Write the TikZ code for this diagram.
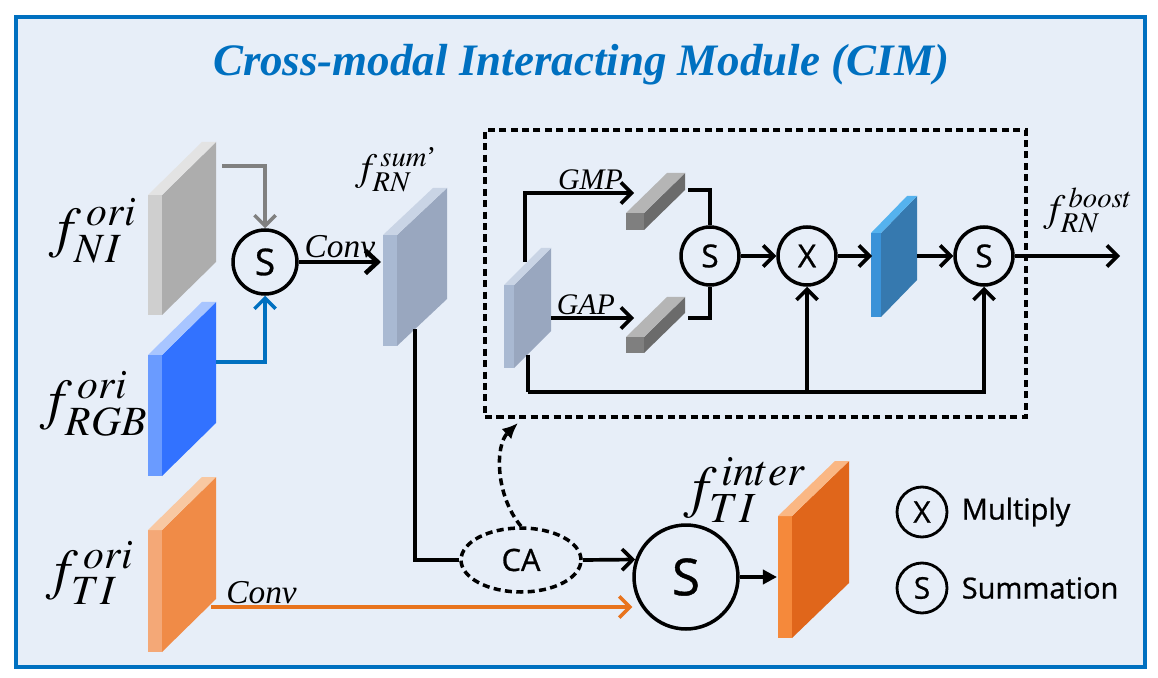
\documentclass[tikz,border=0pt]{standalone}
\usepackage{amsmath}
\usepackage{mathptmx}
\usepackage[no-math]{fontspec}
\setmainfont{Liberation Serif}
\setsansfont{Open Sans}[FakeBold=0.8]
\usepackage{xcolor}
\usetikzlibrary{shapes.geometric, arrows.meta, positioning, calc}

\definecolor{cimblue}{HTML}{0070C0}
\definecolor{bgblue}{HTML}{E7EEF8}
\definecolor{convorange}{HTML}{E8741E}
\definecolor{greyF}{HTML}{CFCFCF}
\definecolor{greyS}{HTML}{ADADAD}
\definecolor{greyT}{HTML}{E3E3E3}
\definecolor{rgbF}{HTML}{6A9BFF}
\definecolor{rgbS}{HTML}{3272FF}
\definecolor{rgbT}{HTML}{A8C5FF}
\definecolor{tiF}{HTML}{F4A877}
\definecolor{tiS}{HTML}{F08B47}
\definecolor{tiT}{HTML}{F8C8A2}
\definecolor{rnF}{HTML}{A9B9D2}
\definecolor{rnS}{HTML}{99A7BF}
\definecolor{rnT}{HTML}{C9D4E5}
\definecolor{barF}{HTML}{7F7F7F}
\definecolor{barS}{HTML}{6B6B6B}
\definecolor{barT}{HTML}{B5B5B5}
\definecolor{boostF}{HTML}{3A92D8}
\definecolor{boostS}{HTML}{3679AF}
\definecolor{boostT}{HTML}{55B2EE}
\definecolor{interF}{HTML}{F5893B}
\definecolor{interS}{HTML}{E0661B}
\definecolor{interT}{HTML}{FAB784}

% feature slab: name, front x, front bottom y, width, height, depth x, depth y, colour
\newcommand{\slab}[8]{%
  \fill[#8S] (#2+#4,#3) -- (#2+#4,#3-#5) -- (#2+#4+#6,#3-#5-#7) -- (#2+#4+#6,#3-#7) -- cycle;
  \fill[#8F] (#2,#3) rectangle (#2+#4,#3-#5);
  \fill[#8T] (#2,#3-#5) -- (#2+#4,#3-#5) -- (#2+#4+#6,#3-#5-#7) -- (#2+#6,#3-#5-#7) -- cycle;
  \coordinate (#1) at (#2,#3);
}

\begin{document}
\begin{tikzpicture}[x=0.02cm, y=-0.02cm, >={Straight Barb[length=6pt,width=12pt]}]
        \tikzstyle{op_style} = [circle, draw=black, line width=2pt, inner sep=0pt, minimum size=1.16cm, font=\sffamily\fontsize{18}{18}\selectfont]
        \tikzstyle{flab_big} = [inner sep=0pt, font=\fontsize{32}{36}\selectfont]
        \tikzstyle{flab_small} = [inner sep=0pt, font=\fontsize{22}{26}\selectfont]
        \tikzstyle{op_lbl} = [inner sep=1pt, font=\fontsize{17}{20}\selectfont\itshape]
        \tikzstyle{legend_txt} = [inner sep=0pt, font=\sffamily\fontsize{16.5}{20}\selectfont]
        \tikzstyle{arr} = [line width=2.1pt, ->]
        \tikzstyle{arr_thick} = [line width=2.6pt, -{Straight Barb[length=7pt,width=13pt]}]
        \tikzstyle{line} = [line width=2.1pt]

        \useasboundingbox (0,0) rectangle (1158,678);

        % Frame and title
        \draw [line width=2.8pt, draw=cimblue, fill=bgblue] (16,17) rectangle (1145,667);
        \node (title) [text=cimblue, font=\fontsize{25.6}{30}\selectfont\bfseries\itshape] at (581,65) {Cross-modal Interacting Module (CIM)};

        % Input features
        \slab{ni}{148}{315}{14}{120}{54}{53}{grey}
        \slab{rgb}{148}{476}{14}{121}{54}{53}{rgb}
        \slab{ti}{148}{652}{14}{122}{54}{53}{ti}
        \node (lab_ni) [flab_big] at (93,231) {$f^{\,ori}_{NI}$};
        \node (lab_rgb) [flab_big] at (94,404) {$f^{\,ori}_{RGB}$};
        \node (lab_ti) [flab_big] at (90,573) {$f^{\,ori}_{TI}$};
        \coordinate (ni_out) at (222,166);
        \coordinate (rgb_out) at (216,362);
        \coordinate (ti_out) at (211,607);

        % First summation and fused feature
        \node (s1) [op_style, minimum size=1.28cm, font=\sffamily\fontsize{21}{21}\selectfont] at (265,262) {S};
        \slab{rn}{383}{346}{14}{111}{50}{47}{rn}
        \node (lab_rn) [flab_small] at (396,170) {$f^{\,sum\text{'}}_{RN}$};
        \coordinate (rn_in) at (381,262);
        \coordinate (rn_out) at (415,329);

        \draw [line width=2pt, draw=gray, ->] (ni_out) -| (s1.north);
        \draw [line width=2pt, draw=cimblue, ->] (rgb_out) -| (s1.south);
        \draw [arr_thick] (s1.east) -- node[above, op_lbl, font=\fontsize{19}{22}\selectfont\itshape] {Conv} (rn_in);

        % Channel attention block
        \node (cabox) [draw, line width=2pt, dash pattern=on 4pt off 2.5pt, minimum width=10.82cm, minimum height=5.74cm, inner sep=0pt] at (755.5,273.5) {};
        \slab{inf}{504}{368}{10}{83}{37}{37}{rn}
        \slab{gmp}{626}{230}{18}{17}{41}{40}{bar}
        \slab{gap}{626}{353}{18}{16}{41}{40}{bar}
        \slab{boost}{871}{317}{10}{84}{36}{37}{boost}
        \coordinate (in_up) at (525,262);
        \coordinate (in_side) at (551,318);
        \coordinate (in_bot) at (528,355);
        \coordinate (fb) at (528,392);
        \coordinate (gmp_in) at (634,193);
        \coordinate (gap_in) at (634,318);
        \coordinate (gmp_out) at (688,190);
        \coordinate (gap_out) at (688,318);
        \coordinate (boost_in) at (872,256);
        \coordinate (boost_out) at (917,256);
        \coordinate (out) at (1120,256);

        \node (s2) [op_style] at (710,256) {S};
        \node (x1) [op_style] at (807,256) {X};
        \node (s3) [op_style] at (984,256) {S};

        \draw [arr] (in_up) |- node[above, pos=0.8, op_lbl] {GMP} (gmp_in);
        \draw [arr] (in_side) -- node[above, pos=0.42, op_lbl] {GAP} (gap_in);
        \draw [line] (gmp_out) -| (s2.north);
        \draw [line] (gap_out) -| (s2.south);
        \draw [arr] (s2) -- (x1);
        \draw [arr] (x1) -- (boost_in);
        \draw [arr] (boost_out) -- (s3);
        \draw [line] (in_bot) -- (fb);
        \draw [arr] (fb) -| (s3.south);
        \draw [arr] (x1.south |- fb) -- (x1.south);
        \draw [arr] (s3.east) -- (out);
        \node (lab_boost) [flab_small] at (1088,210) {$f^{\,boost}_{RN}$};

        % Interaction with thermal branch
        \node (ca) [ellipse, draw, line width=2pt, dash pattern=on 4pt off 2.5pt, minimum width=2.4cm, minimum height=1.28cm, inner sep=0pt, font=\sffamily\fontsize{17.5}{20}\selectfont] at (521,560) {CA};
        \node (sbig) [op_style, minimum size=2.08cm, font=\sffamily\fontsize{29}{29}\selectfont] at (686,577) {S};
        \slab{inter}{778}{638}{14}{122}{57}{55}{inter}
        \node (lab_inter) [flab_big, font=\fontsize{33}{38}\selectfont] at (745,490) {$f^{\,inter}_{TI}$};
        \coordinate (inter_in) at (777,577);
        \coordinate (ca_tip) at (518,423);

        \draw [line] (rn_out) |- (ca.west);
        \draw [arr] (ca.east) -- (sbig.161);
        \draw [line width=2pt, draw=convorange, ->] (ti_out) -- node[above, pos=0.12, op_lbl, font=\fontsize{19}{22}\selectfont\itshape] {Conv} (ti_out -| sbig.west);
        \draw [line width=2.1pt, -{Triangle[length=8pt,width=8pt]}] (sbig.east) -- (inter_in);
        \draw [line width=2pt, dash pattern=on 4pt off 2.5pt, -{Latex[length=9pt,width=8pt]}] (ca.north) .. controls (495,495) and (495,445) .. (ca_tip);

        % Legend
        \node (lg_x) [op_style, minimum size=1cm, line width=1.6pt, font=\sffamily\fontsize{17}{17}\selectfont] at (922,512) {X};
        \node (lg_xt) [legend_txt, right=0.26cm of lg_x] {Multiply};
        \node (lg_s) [op_style, minimum size=1cm, line width=1.6pt, font=\sffamily\fontsize{17}{17}\selectfont] at (922,588) {S};
        \node (lg_st) [legend_txt, right=0.26cm of lg_s] {Summation};
    \end{tikzpicture}
\end{document}
